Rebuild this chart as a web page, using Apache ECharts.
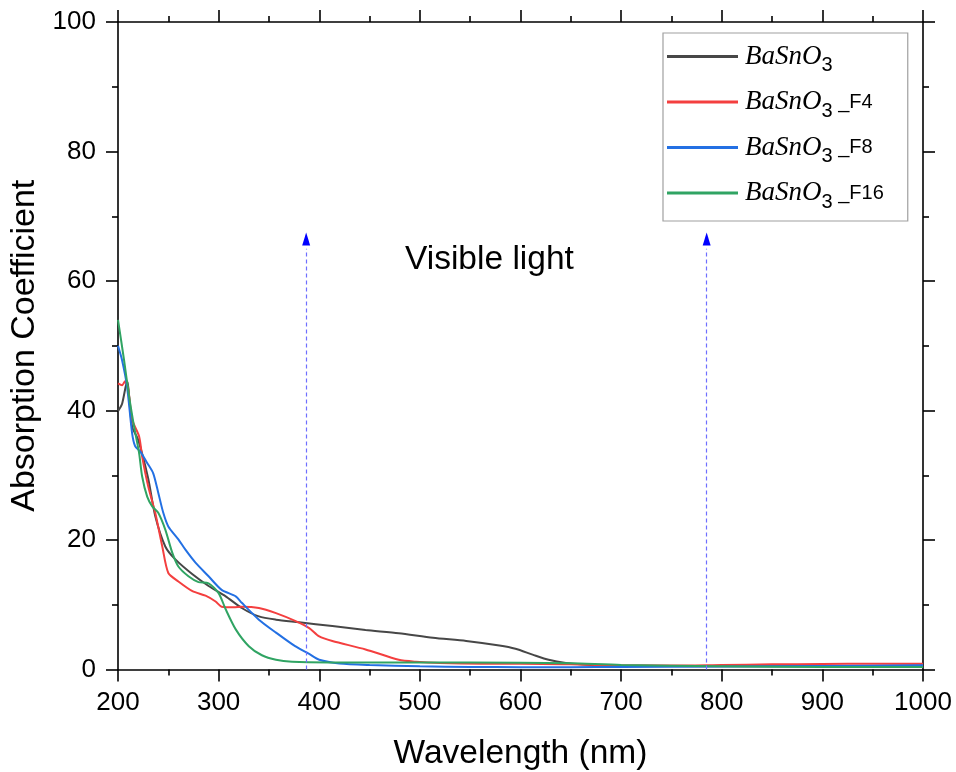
<!DOCTYPE html>
<html>
<head>
<meta charset="utf-8">
<script src="https://cdn.jsdelivr.net/npm/echarts@6/dist/echarts.min.js"></script>
<style>
html,body{margin:0;padding:0;background:#fff;}
#chart{width:956px;height:772px;}
</style>
</head>
<body>
<div id="chart"></div>
<script>
// ---- data ----
const seriesNames = ['BaSnO3', 'BaSnO3 _F4', 'BaSnO3 _F8', 'BaSnO3 _F16'];

const blackWl  = [200,204,209,214,220,230,237,247,257,274,290,307,323,340,357,380,413,446,479,513,546,579,595,612,628,645,662,680,700,750,800,850,900,950,1000];
const blackVal = [39.9,41,44.5,37.5,35.5,29.5,23.7,19,17,14.7,12.9,11.3,9.5,8.2,7.7,7.3,6.7,6.1,5.6,4.9,4.4,3.7,3.2,2.3,1.5,1.0,0.77,0.65,0.6,0.55,0.5,0.5,0.5,0.55,0.6];

const redWl  = [200,204,207,210,214,221,224,230,237,244,250,260,274,287,297,303,315,323,340,357,376,390,400,413,446,479,496,520,560,600,650,700,750,800,850,900,950,1000];
const redVal = [44.2,43.9,44.5,43.5,38.6,36,32.9,28.3,24.2,19,14.9,13.6,12.1,11.4,10.5,9.7,9.6,9.7,9.5,8.7,7.5,6.4,5.1,4.4,3.1,1.5,1.2,1.0,0.9,0.9,0.8,0.6,0.6,0.7,0.8,0.85,0.9,0.9];

const blueWl  = [200,204,209,214,217,222,229,235,240,245,250,260,267,277,290,303,317,323,340,357,376,390,400,420,450,500,550,600,650,700,800,900,1000];
const blueVal = [50,47.8,43.7,36.5,34.5,33.7,31.9,30.3,27.3,24.2,22.1,20.1,18.5,16.5,14.4,12.3,11.3,10.3,7.7,5.7,3.6,2.4,1.5,0.93,0.7,0.5,0.4,0.35,0.35,0.4,0.45,0.55,0.65];

const greenWl  = [200,206,211,216,221,224,229,234,240,247,254,260,270,280,290,300,307,317,330,343,357,373,410,500,600,650,700,800,900,1000];
const greenVal = [54,47.8,42.2,37.5,33.4,29.8,26.7,25.2,24.2,21.6,18,15.9,14.4,13.5,13.3,11.8,9.3,6.2,3.6,2.2,1.5,1.2,1.1,1.1,1.05,0.95,0.7,0.5,0.4,0.4];

const visibleBounds = [387, 785];   // wavelengths of the dashed arrows
const arrowLineTop = 65;            // top of dashed line (absorption units)
const arrowHeadCenter = 66.5;       // arrow head centre
const xTicks = {min: 200, max: 1000, interval: 100};
const yTicks = {min: 0, max: 100, interval: 20};
const annotationText = 'Visible light';

// ---- build ----
const colors = ['#474747', '#f43f3f', '#2370e3', '#30a463'];
const pairs = (xs, ys) => xs.map((x, i) => [x, ys[i]]);
const datasets = [pairs(blackWl, blackVal), pairs(redWl, redVal), pairs(blueWl, blueVal), pairs(greenWl, greenVal)];

const FONT = 'Liberation Sans';
const axisCommon = (extra) => Object.assign({
  type: 'value',
  axisLine: {show: true, onZero: false, lineStyle: {color: '#000', width: 1.6}},
  axisTick: {show: true, inside: false, length: 12, lineStyle: {color: '#000', width: 1.6}},
  minorTick: {show: true, splitNumber: 2, length: 6, lineStyle: {color: '#000', width: 1.6}},
  splitLine: {show: false},
  minorSplitLine: {show: false}
}, extra);

const chart = echarts.init(document.getElementById('chart'), null, {renderer: 'canvas'});

const series = seriesNames.map((n, i) => ({
  name: n,
  type: 'line',
  data: datasets[i],
  showSymbol: false,
  smooth: 0.25,
  lineStyle: {color: colors[i], width: 2},
  itemStyle: {color: colors[i]},
  z: 3
}));

series.push({
  name: 'arrows',
  type: 'line',
  data: [],
  silent: true,
  markLine: {
    silent: true,
    symbol: ['none', 'none'],
    label: {show: false},
    lineStyle: {color: '#6f6fff', type: [4, 3], width: 1.2},
    data: visibleBounds.map(x => [{coord: [x, 0]}, {coord: [x, arrowLineTop]}])
  },
  markPoint: {
    silent: true,
    symbol: 'triangle',
    symbolSize: [8, 13],
    itemStyle: {color: '#0000ff'},
    label: {show: false},
    data: visibleBounds.map(x => ({coord: [x, arrowHeadCenter]}))
  }
});

const plainNum = v => String(v);

const option = {
  backgroundColor: '#fff',
  animation: false,
  grid: {left: 118, right: 33, top: 22, bottom: 102.5, containLabel: false, outerBoundsMode: 'none'},
  xAxis: [
    axisCommon({
      position: 'bottom', min: xTicks.min, max: xTicks.max, interval: xTicks.interval,
      name: 'Wavelength (nm)', nameLocation: 'middle', nameGap: 67,
      nameTextStyle: {fontFamily: FONT, fontSize: 33.5, color: '#000'},
      axisLabel: {fontFamily: FONT, fontSize: 26, color: '#000', margin: 20, formatter: plainNum}
    }),
    axisCommon({
      position: 'top', min: xTicks.min, max: xTicks.max, interval: xTicks.interval,
      axisLabel: {show: false}
    })
  ],
  yAxis: [
    axisCommon({
      position: 'left', min: yTicks.min, max: yTicks.max, interval: yTicks.interval,
      name: 'Absorption Coefficient', nameLocation: 'middle', nameGap: 76,
      nameTextStyle: {fontFamily: FONT, fontSize: 34, color: '#000'},
      axisLabel: {fontFamily: FONT, fontSize: 26, color: '#000', margin: 22, formatter: plainNum}
    }),
    axisCommon({
      position: 'right', min: yTicks.min, max: yTicks.max, interval: yTicks.interval,
      axisLabel: {show: false}
    })
  ],
  legend: {
    data: seriesNames,
    orient: 'vertical',
    left: 663,
    top: 33,
    padding: [10, 24, 9, 4],
    itemGap: 13,
    itemWidth: 71,
    itemHeight: 3,
    icon: 'rect',
    borderColor: '#a0a0a0',
    borderWidth: 1.2,
    backgroundColor: '#fff',
    formatter: function (name) {
      const suf = name.slice(6);
      return '{i|BaSnO}{s|3}' + (suf ? '{n|' + suf + '}' : '');
    },
    textStyle: {
      padding: [0, 0, 0, 2],
      rich: {
        i: {fontFamily: 'Liberation Serif', fontStyle: 'italic', fontSize: 27, lineHeight: 38, verticalAlign: 'middle', color: '#000'},
        s: {fontFamily: FONT, fontSize: 20, lineHeight: 38, verticalAlign: 'bottom', color: '#000'},
        n: {fontFamily: FONT, fontSize: 20, lineHeight: 38, verticalAlign: 'middle', color: '#000'}
      }
    }
  },
  graphic: [{
    type: 'text',
    left: 405,
    top: 243,
    style: {text: annotationText, font: '33.5px "Liberation Sans"', fill: '#000'}
  }],
  series: series
};

chart.setOption(option);
</script>
</body>
</html>
